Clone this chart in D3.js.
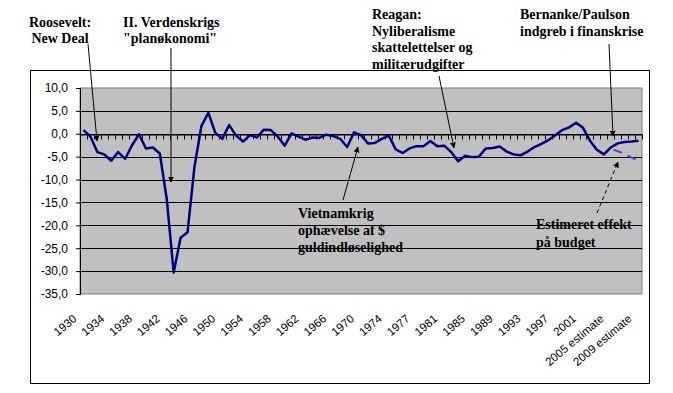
<!DOCTYPE html>
<html>
<head>
<meta charset="utf-8">
<script src="https://cdn.jsdelivr.net/npm/d3@7"></script>
<style>
  body { margin: 0; background: #fff; }
  svg { display: block; }
  .axis text { font-family: Arial, "Liberation Sans", sans-serif; font-size: 12px; fill: #000; }
  .axis text.cat { font-size: 11.5px; }
  .note { font-family: "Liberation Serif", "DejaVu Serif", "Times New Roman", serif; font-size: 14px; font-weight: bold; fill: #000; }
</style>
</head>
<body>
<div id="chart"></div>
<script>
// budget balance, % of GDP
var years = [];
for (var y = 1930; y <= 1976; y++) years.push(String(y));
years.push("TQ");
for (var y2 = 1977; y2 <= 2004; y2++) years.push(String(y2));
years.push("2005 estimate", "2006 estimate", "2007 estimate", "2008 estimate", "2009 estimate");

var balance = [
  0.8, -0.6, -4.0, -4.5, -5.9, -4.0, -5.5, -2.5, -0.1, -3.2,
  -3.0, -4.3, -14.2, -30.3, -22.7, -21.5, -7.2, 1.7, 4.6, 0.2,
  -1.1, 1.9, -0.4, -1.7, -0.3, -0.8, 0.9, 0.8, -0.6, -2.6,
  0.1, -0.6, -1.3, -0.8, -0.9, -0.2, -0.5, -1.1, -2.9, 0.3,
  -0.3, -2.1, -2.0, -1.1, -0.4, -3.4, -4.2, -3.2, -2.7, -2.7,
  -1.6, -2.7, -2.6, -4.0, -6.0, -4.8, -5.1, -5.0, -3.2, -3.1,
  -2.8, -3.9, -4.5, -4.7, -3.9, -2.9, -2.2, -1.4, -0.3, 0.8,
  1.4, 2.4, 1.3, -1.5, -3.5, -4.5, -3.0, -2.1, -1.8, -1.7, -1.5
];

// estimated effect of the crisis measures (last years only)
var effectYears = ["2005 estimate", "2006 estimate", "2007 estimate", "2008 estimate", "2009 estimate"];
var effect = [-3.3, -3.8, -4.4, -5.2, -5.8];

var yTicks = [10, 5, 0, -5, -10, -15, -20, -25, -30, -35];

var notes = [
  { lines: ["Roosevelt:", "New Deal"], x: 60, y: 27, step: 15.5, anchor: "middle", from: [88, 44], to: [97, 141], dashed: false },
  { lines: ["II. Verdenskrigs", "\"planøkonomi\""], x: 123, y: 27, step: 15.5, anchor: "start", from: [171, 48], to: [171, 182], dashed: false },
  { lines: ["Reagan:", "Nyliberalisme", "skattelettelser og", "militærudgifter"], x: 372, y: 19, step: 16.5, anchor: "start", from: [439, 76], to: [454, 148], dashed: false },
  { lines: ["Bernanke/Paulson", "indgreb i finanskrise"], x: 520, y: 19, step: 17, anchor: "start", from: [609, 44], to: [613, 136], dashed: false },
  { lines: ["Vietnamkrig", "ophævelse af $", "guldindløselighed"], x: 298, y: 218, step: 17, anchor: "start", from: [343, 200], to: [358, 147], dashed: false },
  { lines: ["Estimeret effekt", "på budget"], x: 536, y: 229, step: 17.5, anchor: "start", from: [597, 213], to: [618, 162], dashed: true }
];

var width = 673;
var height = 393;
var plot = { left: 80, top: 88, right: 642, bottom: 294 };

var svg = d3.select("#chart").append("svg")
  .attr("width", width)
  .attr("height", height);

svg.append("defs").append("marker")
  .attr("id", "arrow")
  .attr("viewBox", "0 0 10 10")
  .attr("refX", 9).attr("refY", 5)
  .attr("markerWidth", 6).attr("markerHeight", 6)
  .attr("markerUnits", "userSpaceOnUse")
  .attr("orient", "auto")
  .append("path")
  .attr("d", "M0,0L10,5L0,10Z")
  .attr("fill", "#000");

// outer chart frame
svg.append("rect")
  .attr("x", 30.5).attr("y", 70.5)
  .attr("width", 619).attr("height", 313)
  .attr("fill", "#fff").attr("stroke", "#000");

var xScale = d3.scaleBand()
  .domain(years)
  .range([plot.left, plot.right])
  .paddingInner(0).paddingOuter(0);

var yScale = d3.scaleLinear()
  .domain([-35, 10])
  .range([plot.bottom, plot.top]);

function cx(d) { return xScale(d) + xScale.bandwidth() / 2; }

// plot area
svg.append("rect")
  .attr("x", plot.left).attr("y", plot.top)
  .attr("width", plot.right - plot.left).attr("height", plot.bottom - plot.top)
  .attr("fill", "#c0c0c0").attr("stroke", "#808080");

// gridlines
svg.append("g")
  .selectAll("line")
  .data(yTicks.filter(function (t) { return t !== 10 && t !== -35; }))
  .enter().append("line")
  .attr("x1", plot.left).attr("x2", plot.right)
  .attr("y1", function (d) { return Math.round(yScale(d)) + 0.5; })
  .attr("y2", function (d) { return Math.round(yScale(d)) + 0.5; })
  .attr("stroke", "#000");

// y axis
var yAxis = d3.axisLeft(yScale)
  .tickValues(yTicks)
  .tickSize(4)
  .tickPadding(8)
  .tickFormat(function (d) { return d3.format(".1f")(d).replace(".", ",").replace("−", "-"); });

svg.append("g")
  .attr("class", "axis")
  .attr("transform", "translate(" + plot.left + ",0)")
  .call(yAxis)
  .call(function (g) { g.select(".domain").attr("stroke", "#000"); });

// x axis crossing at zero
var xAxis = d3.axisBottom(xScale)
  .tickSize(0)
  .tickFormat("");

var zeroY = Math.round(yScale(0)) + 0.5;
var gX = svg.append("g")
  .attr("class", "axis")
  .attr("transform", "translate(0," + zeroY + ")")
  .call(xAxis);
gX.select(".domain").attr("stroke", "#000");

// small category tick marks below the zero line
gX.selectAll(".cat-tick")
  .data(years.concat(["end"]))
  .enter().append("line")
  .attr("class", "cat-tick")
  .attr("x1", function (d, i) { return Math.round(plot.left + i * xScale.bandwidth()) + 0.5; })
  .attr("x2", function (d, i) { return Math.round(plot.left + i * xScale.bandwidth()) + 0.5; })
  .attr("y1", 0).attr("y2", 5)
  .attr("stroke", "#000");

// category labels, every fourth, at the bottom
svg.append("g")
  .attr("class", "axis")
  .selectAll("text")
  .data(years.filter(function (d, i) { return i % 4 === 0; }))
  .enter().append("text")
  .attr("class", "cat")
  .attr("transform", function (d) { return "translate(" + (cx(d) - 6) + "," + (plot.bottom + 26) + ") rotate(-40)"; })
  .attr("text-anchor", "end")
  .text(function (d) { return d; });

// main series
var line = d3.line()
  .x(function (d) { return cx(d.year); })
  .y(function (d) { return yScale(d.value); });

svg.append("path")
  .datum(years.map(function (d, i) { return { year: d, value: balance[i] }; }))
  .attr("d", line)
  .attr("fill", "none")
  .attr("stroke", "#000080")
  .attr("stroke-width", 2.5)
  .attr("stroke-linejoin", "round");

// estimated effect series
svg.append("path")
  .datum(effectYears.map(function (d, i) { return { year: d, value: effect[i] }; }))
  .attr("d", line)
  .attr("fill", "none")
  .attr("stroke", "#4848c8")
  .attr("stroke-width", 2)
  .attr("stroke-dasharray", "9,6")
  .attr("stroke-dashoffset", -3);

// annotations
var g = svg.append("g");
notes.forEach(function (n) {
  g.append("line")
    .attr("x1", n.from[0]).attr("y1", n.from[1])
    .attr("x2", n.to[0]).attr("y2", n.to[1])
    .attr("stroke", "#000")
    .attr("stroke-width", 1)
    .attr("stroke-dasharray", n.dashed ? "4,3" : null)
    .attr("marker-end", "url(#arrow)");

  var t = g.append("text")
    .attr("class", "note")
    .attr("font-family", "'Liberation Serif', 'DejaVu Serif', serif")
    .attr("text-anchor", n.anchor)
    .attr("x", n.x).attr("y", n.y);
  n.lines.forEach(function (l, i) {
    t.append("tspan")
      .attr("x", n.x)
      .attr("dy", i === 0 ? 0 : n.step)
      .text(l);
  });
});
</script>
</body>
</html>
